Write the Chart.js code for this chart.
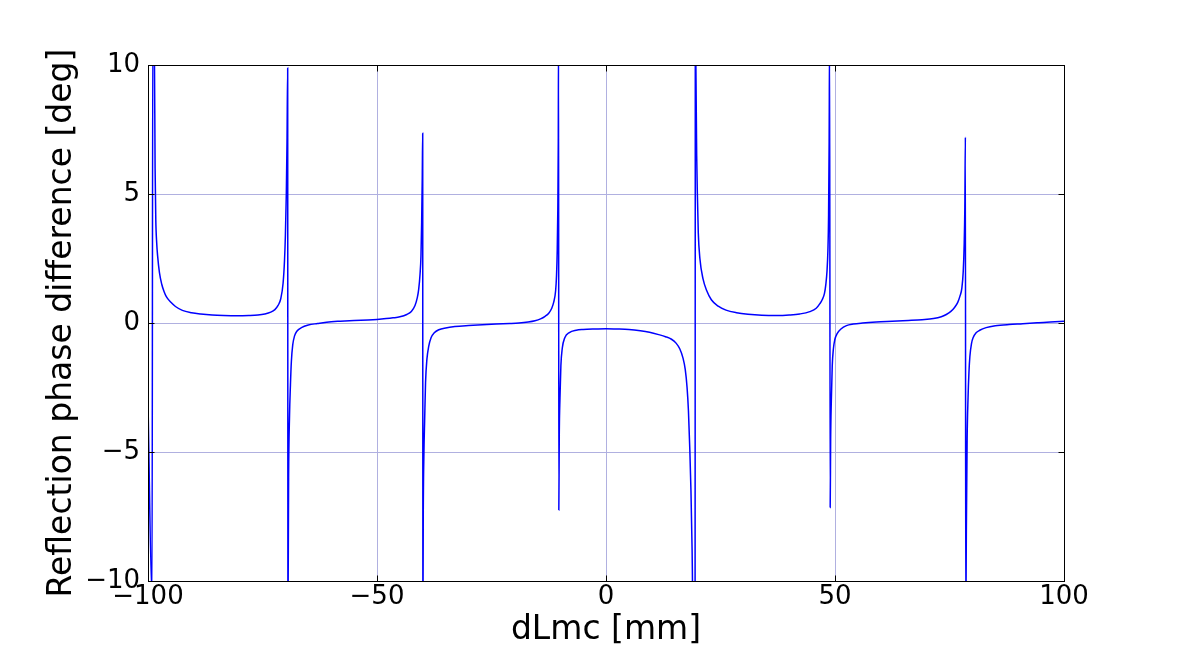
<!DOCTYPE html>
<html>
<head>
<meta charset="utf-8">
<title>Reflection phase difference vs dLmc</title>
<script src="https://cdn.jsdelivr.net/npm/chart.js@4.4.1/dist/chart.umd.min.js"></script>
<style>
  html, body { margin: 0; padding: 0; background: #fff; }
  #wrap { position: relative; width: 1182px; height: 645px; }
</style>
</head>
<body>
<div id="wrap"><canvas id="chart"></canvas></div>
<script>
// Curve, grouped between resonances
const dLmc = [
  -100, -99.12, -98.95, -98.6, -98.45, -98.3, -98.1, -97.9, -97.5, -97.0, -96.5, -96.0, -95.0, -94.0, -92.5, -90.5,
  -88.5, -86.0, -83.5, -80.5, -78.0, -76.0, -74.5, -73.2, -72.3, -71.6, -71.0, -70.5, -70.2, -70.0, -69.8, -69.65, -69.5,
  -69.45, -69.3, -69.1, -68.9, -68.7, -68.4, -68.0, -67.5, -66.5, -65.0, -63.0, -61.0, -58.0, -55.0, -52.0, -50.0,
  -48.0, -46.5, -45.0, -43.5, -42.5, -41.7, -41.2, -40.9, -40.6, -40.4, -40.25, -40.12, -40.02,
  -39.98, -39.9, -39.75, -39.6, -39.4, -39.1, -38.7, -38.2, -37.5, -36.5, -35.0, -33.0, -30.0, -27.0, -24.0,
  -21.0, -19.0, -17.0, -15.5, -14.3, -13.3, -12.5, -11.9, -11.4, -11.0, -10.8, -10.65, -10.52, -10.42, -10.36,
  -10.3, -10.2, -10.05, -9.85, -9.55, -9.0, -8.0, -6.5, -5.0, -2.5, 0, 2.5, 5.0, 7.5, 9.5, 11.5, 13.0, 14.3,
  15.3, 16.1, 16.8, 17.3, 17.7, 18.0, 18.3, 18.55, 18.8, 19.05,
  19.45, 19.5, 19.65, 19.8, 19.95, 20.15, 20.5, 21.2, 22.0, 23.0, 24.5, 26.2, 28.5, 31.0, 34.0, 37.5, 40.0,
  42.3, 44.5, 45.9, 46.7, 47.2, 47.7, 48.0, 48.25, 48.45, 48.6, 48.72, 48.82,
  48.95, 49.05, 49.2, 49.4, 49.65, 49.95, 50.5, 51.3, 52.5, 54.0, 56.0, 59.0, 62.5, 66.0, 69.0, 71.5, 73.2,
  74.3, 75.3, 76.1, 76.8, 77.3, 77.7, 78.0, 78.2, 78.35, 78.47,
  78.55, 78.68, 78.85, 79.05, 79.25, 79.45, 79.8, 80.2, 80.8, 81.6, 83.0, 85.0, 88.0, 91.0, 94.5, 97.0, 100
];

const phase = [
  -3.1, -10.6, 12, 10.5, 6.0, 4.0, 3.1, 2.6, 1.95, 1.5, 1.22, 1.02, 0.8, 0.64, 0.49, 0.4,
  0.35, 0.31, 0.29, 0.28, 0.29, 0.31, 0.35, 0.42, 0.52, 0.68, 0.95, 1.55, 2.4, 3.4, 5.0, 7.0, 9.88,
  -12, -6.0, -3.6, -2.4, -1.5, -0.85, -0.5, -0.32, -0.18, -0.08, -0.02, 0.03, 0.07, 0.1, 0.12, 0.14,
  0.17, 0.2, 0.24, 0.33, 0.45, 0.68, 0.98, 1.3, 1.9, 2.6, 3.9, 5.6, 7.35,
  -12, -7.5, -5.0, -3.8, -2.3, -1.4, -0.9, -0.57, -0.38, -0.26, -0.19, -0.14, -0.1, -0.07, -0.04,
  -0.02, 0.0, 0.04, 0.09, 0.16, 0.26, 0.38, 0.55, 0.82, 1.25, 1.85, 2.8, 4.4, 7.0, 11,
  -7.25, -4.3, -2.9, -1.65, -0.98, -0.57, -0.37, -0.28, -0.25, -0.23, -0.22, -0.23, -0.25, -0.3, -0.36, -0.45, -0.53, -0.63,
  -0.78, -1.0, -1.35, -1.8, -2.5, -3.4, -4.9, -6.5, -8.8, -12,
  -12, 12, 9.5, 6.5, 5.0, 3.5, 2.5, 1.7, 1.25, 0.9, 0.65, 0.5, 0.4, 0.34, 0.3, 0.29, 0.31,
  0.35, 0.44, 0.57, 0.75, 0.9, 1.15, 1.5, 2.0, 2.8, 4.2, 7.0, 11,
  -7.15, -4.5, -3.0, -1.65, -1.0, -0.65, -0.4, -0.23, -0.1, -0.04, 0.0, 0.04, 0.07, 0.1, 0.13, 0.17, 0.24,
  0.33, 0.45, 0.6, 0.8, 1.05, 1.35, 2.0, 3.0, 4.5, 7.2,
  -12, -8, -4.5, -2.9, -1.9, -1.3, -0.8, -0.55, -0.38, -0.28, -0.18, -0.11, -0.06, -0.03, 0.01, 0.04, 0.07
];

const xTicks = [-100, -50, 0, 50, 100];
const yTicks = [-10, -5, 0, 5, 10];

const GRID = '#b0b0e0';
const TICK_LEN = 6;

Chart.defaults.font.family = '"DejaVu Sans", sans-serif';
Chart.defaults.color = '#000';

// matplotlib style minus sign
const fmt = (v) => (v < 0 ? '\u2212' + Math.abs(v) : String(v));

// black frame on four sides plus inward tick marks
const frame = {
  id: 'frame',
  afterDatasetsDraw(chart) {
    const { ctx, chartArea: a, scales: { x, y } } = chart;
    const L = Math.round(a.left) + 0.5, R = Math.round(a.right) + 0.5;
    const T = Math.round(a.top) + 0.5, B = Math.round(a.bottom) + 0.5;
    ctx.save();
    ctx.strokeStyle = '#000';
    ctx.lineWidth = 1;
    ctx.beginPath();
    xTicks.forEach(v => {
      const px = Math.round(x.getPixelForValue(v)) + 0.5;
      ctx.moveTo(px, B); ctx.lineTo(px, B - TICK_LEN);
      ctx.moveTo(px, T); ctx.lineTo(px, T + TICK_LEN);
    });
    yTicks.forEach(v => {
      const py = Math.round(y.getPixelForValue(v)) + 0.5;
      ctx.moveTo(L, py); ctx.lineTo(L + TICK_LEN, py);
      ctx.moveTo(R, py); ctx.lineTo(R - TICK_LEN, py);
    });
    ctx.stroke();
    ctx.strokeRect(L, T, R - L, B - T);
    ctx.restore();
  }
};

new Chart(document.getElementById('chart'), {
  type: 'line',
  data: {
    datasets: [{
      data: dLmc.map((v, i) => ({ x: v, y: phase[i] })),
      borderColor: '#0000ff',
      borderWidth: 1.5,
      pointRadius: 0,
      fill: false,
      cubicInterpolationMode: 'monotone'
    }]
  },
  options: {
    responsive: true,
    maintainAspectRatio: false,
    animation: false,
    layout: { padding: { top: 65, right: 118, left: 0, bottom: 0 } },
    plugins: {
      legend: { display: false },
      tooltip: { enabled: false }
    },
    scales: {
      x: {
        type: 'linear',
        min: -100,
        max: 100,
        afterFit: (s) => { s.height = 64; },
        afterBuildTicks: (s) => { s.ticks = xTicks.map(v => ({ value: v })); },
        grid: { color: GRID, lineWidth: 1, drawTicks: false },
        border: { display: false },
        ticks: { font: { size: 26 }, padding: 1, maxRotation: 0, callback: fmt },
        title: {
          display: true,
          text: 'dLmc [mm]',
          font: { size: 33 },
          padding: { top: 0, bottom: -5 }
        }
      },
      y: {
        type: 'linear',
        min: -10,
        max: 10,
        afterFit: (s) => { s.width = 148; },
        afterBuildTicks: (s) => { s.ticks = yTicks.map(v => ({ value: v })); },
        grid: { color: GRID, lineWidth: 1, drawTicks: false },
        border: { display: false },
        ticks: { font: { size: 26 }, padding: 8, callback: fmt },
        title: {
          display: true,
          text: 'Reflection phase difference [deg]',
          font: { size: 33 },
          padding: { top: 43, bottom: 0 }
        }
      }
    }
  },
  plugins: [frame]
});
</script>
</body>
</html>
